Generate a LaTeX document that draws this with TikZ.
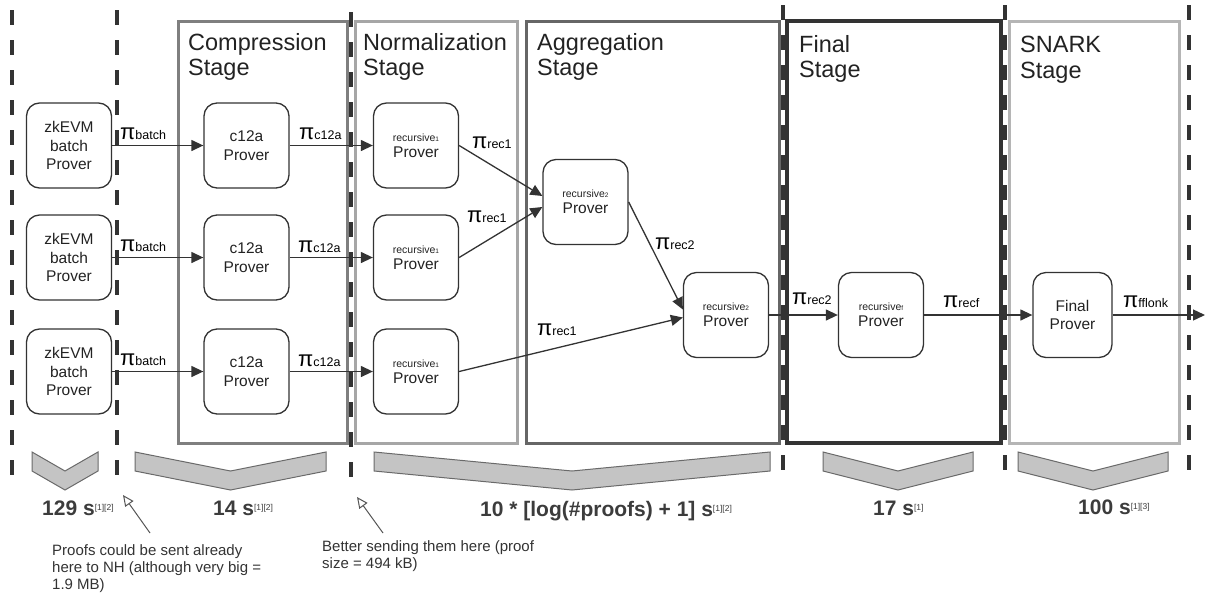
\documentclass[tikz,border=0pt]{standalone}
\usepackage{fontspec}
\setmainfont{Liberation Sans}
\usetikzlibrary{arrows.meta,calc}

\definecolor{ink}{HTML}{333333}
\definecolor{txt}{HTML}{222222}
\definecolor{compgray}{HTML}{7F7F7F}
\definecolor{normgray}{HTML}{A6A6A6}
\definecolor{agggray}{HTML}{666666}
\definecolor{finalgray}{HTML}{333333}
\definecolor{snarkgray}{HTML}{B5B5B5}
\definecolor{chevfill}{HTML}{C4C4C4}
\definecolor{chevline}{HTML}{6A6A6A}
\definecolor{timetxt}{HTML}{3C3C3C}
\definecolor{notegray}{HTML}{555555}

% proof symbol with its name set small on the same baseline
\newcommand{\prf}[1]{{\fontsize{22}{22}\selectfont π}{\fontsize{12.5}{12.5}\selectfont #1}}
% small "recursive" tag with a tiny index
\newcommand{\recprov}[1]{{\fontsize{10.5}{12}\selectfont recursive{\fontsize{6.5}{7}\selectfont #1}}}
% reference marks after a timing
\newcommand{\timerefs}[1]{\raisebox{5pt}{\fontsize{8.5}{9}\selectfont\mdseries #1}}

\begin{document}
\begin{tikzpicture}[x=1pt,y=-1pt,
  stagebox/.style={line width=3pt},
  stagetitle/.style={anchor=north west, inner sep=0pt, align=left,
    font=\fontsize{23.5}{25.5}\selectfont, text=txt},
  sepline/.style={draw=ink, line width=4pt, dash pattern=on 15pt off 15pt},
  gapline/.style={draw=white, line width=4pt},
  prover/.style={draw=ink, line width=1.3pt, rounded corners=13pt,
    minimum width=85pt, minimum height=85pt, inner sep=0pt, align=center,
    text=txt, font=\fontsize{15.5}{18.5}\selectfont},
  recprover/.style={prover, font=\fontsize{15.5}{16}\selectfont},
  flow/.style={draw=ink, line width=1.3pt, -{Triangle[length=12pt,width=11pt]}},
  prooflabel/.style={anchor=base west, inner sep=0pt, text=black},
  chevron/.style={fill=chevfill, draw=chevline, line width=1pt},
  timelabel/.style={anchor=base west, inner sep=0pt, text=timetxt,
    font=\fontsize{21}{21}\selectfont\bfseries},
  note/.style={anchor=north west, inner sep=0pt, align=left, text=ink,
    font=\fontsize{15}{17}\selectfont},
  notearrow/.style={draw=notegray, line width=1pt,
    -{Triangle[open,length=11pt,width=10pt]}}
]
\useasboundingbox (0,0) rectangle (1208,595);

% stage frames
\draw[stagebox, compgray]  (178,21) rectangle (347,443);
\draw[stagebox, normgray]  (355,21) rectangle (517,443);
\draw[stagebox, agggray]   (526,21) rectangle (779,443);
\draw[stagebox, finalgray, line width=3.5pt] (787,21) rectangle (1001,443);
\draw[stagebox, snarkgray] (1009,21) rectangle (1179,443);

% stage titles
\node[stagetitle] (tcomp)  at (188,33) {Compression\\Stage};
\node[stagetitle] (tnorm)  at (363,33) {Normalization\\Stage};
\node[stagetitle] (tagg)   at (537,33) {Aggregation\\Stage};
\node[stagetitle] (tfin)   at (799,35) {Final\\Stage};
\node[stagetitle] (tsnark) at (1020,36) {SNARK\\Stage};

% dashed separators
\foreach \x in {351,783,1005} \draw[gapline] (\x,21) -- (\x,443);
\draw[sepline] (12,10) -- (12,476);
\draw[sepline] (117,10) -- (117,476);
\draw[sepline] (351,12) -- (351,478);
\draw[sepline] (783,5) -- (783,471);
\draw[sepline] (1005,5) -- (1005,471);
\draw[sepline] (1189,5) -- (1189,471);

% provers
\foreach \r/\y in {1/145.5, 2/257.5, 3/371.5} {
  \node[prover] (zk\r) at (69,\y) {zkEVM\\batch\\Prover};
  \node[prover] (c\r) at (246.5,\y) {c12a\\Prover};
  \node[recprover] (rec\r) at (416,\y) {\recprov{1}\\Prover};
}
\node[recprover] (r2a) at (585.5,202) {\recprov{2}\\Prover};
\node[recprover] (r2b) at (726,315) {\recprov{2}\\Prover};
\node[recprover] (rf)  at (881,315) {\recprov{f}\\Prover};
\node[prover, minimum width=79pt] (fin) at (1072.5,315) {Final\\Prover};
\coordinate (out) at (1205,315);

% proof flow
\foreach \r in {1,2,3} {
  \draw[flow] (zk\r) -- (c\r);
  \draw[flow] (c\r) -- (rec\r);
}
\draw[flow] (rec1.east) -- ($(r2a.west)+(0,-6)$);
\draw[flow] (rec2.east) -- ($(r2a.west)+(0,5)$);
\draw[flow] (rec3.east) -- ($(r2b.west)+(0,2.5)$);
\draw[flow] (r2a.east) -- ($(r2b.west)+(0,-5.5)$);
\draw[flow] (r2b) -- (rf);
\draw[flow] (rf) -- (fin);
\draw[flow] (fin) -- (out);

% proof labels
\node[prooflabel] (pb1) at (120,139) {\prf{batch}};
\node[prooflabel] (pb2) at (120,251) {\prf{batch}};
\node[prooflabel] (pb3) at (120,365) {\prf{batch}};
\node[prooflabel] (pc1) at (299,139) {\prf{c12a}};
\node[prooflabel] (pc2) at (298,252) {\prf{c12a}};
\node[prooflabel] (pc3) at (298,366) {\prf{c12a}};
\node[prooflabel] (pr1a) at (472,148) {\prf{rec1}};
\node[prooflabel] (pr1b) at (467,222) {\prf{rec1}};
\node[prooflabel] (pr1c) at (537,335) {\prf{rec1}};
\node[prooflabel] (pr2a) at (655,249) {\prf{rec2}};
\node[prooflabel] (pr2b) at (792,304) {\prf{rec2}};
\node[prooflabel] (prf)  at (943,307) {\prf{recf}};
\node[prooflabel] (pff)  at (1123,307) {\prf{fflonk}};

% timing chevrons
\foreach \a/\b in {32/98, 135/326, 374/770, 823/973, 1018/1168}
  \draw[chevron] (\a,452) -- ({(\a+\b)/2},471) -- (\b,452) -- (\b,471)
    -- ({(\a+\b)/2},490) -- (\a,471) -- cycle;

% timings
\node[timelabel] (t1) at (42,515) {129 s\timerefs{[1][2]}};
\node[timelabel] (t2) at (213,515) {14 s\timerefs{[1][2]}};
\node[timelabel] (t3) at (480,516) {10 * [log(\#proofs) + 1] s\timerefs{[1][2]}};
\node[timelabel] (t4) at (873,515) {17 s\timerefs{[1]}};
\node[timelabel] (t5) at (1078,514) {100 s\timerefs{[1][3]}};

% notes
\node[note] (noteA) at (52,544) {Proofs could be sent already\\here to NH (although very big =\\1.9 MB)};
\node[note] (noteB) at (322,540) {Better sending them here (proof\\size = 494 kB)};
\coordinate (tipA) at (123,495);
\coordinate (tailA) at (150,533);
\coordinate (tipB) at (357,497);
\coordinate (tailB) at (383,533);
\draw[notearrow] (tailA) -- (tipA);
\draw[notearrow] (tailB) -- (tipB);
\end{tikzpicture}
\end{document}
